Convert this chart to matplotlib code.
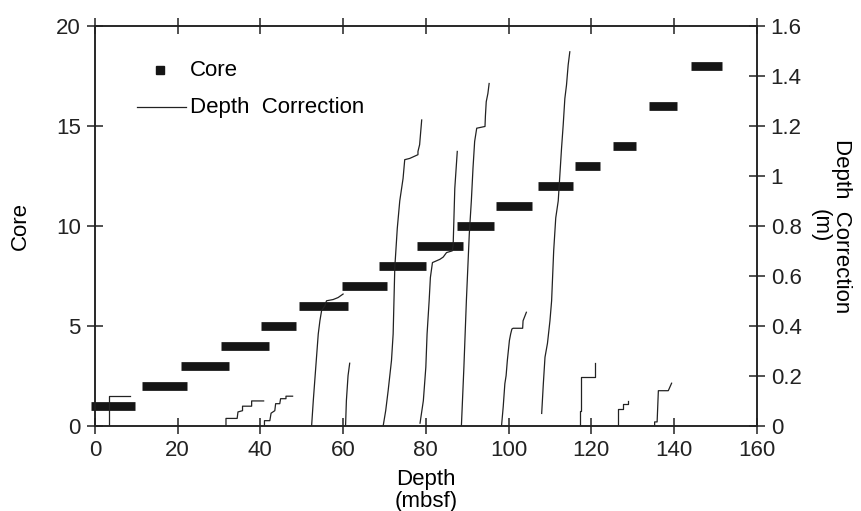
import numpy as np
import matplotlib
matplotlib.use('Agg')
import matplotlib.pyplot as plt
from matplotlib.ticker import FormatStrFormatter

plt.rcParams['font.family'] = ['Liberation Sans', 'DejaVu Sans']
plt.rcParams['font.size'] = 16

# cores: number, top and bottom depth (mbsf)
core_no = [1, 2, 3, 4, 5, 6, 7, 8, 9, 10, 11, 12, 13, 14, 16, 18]
core_top = [-1.0, 11.4, 20.8, 30.6, 40.1, 49.4, 59.8, 68.6, 77.9, 87.6, 97.0, 107.1, 116.1, 125.3, 134.0, 144.0]
core_bot = [9.6, 22.2, 32.4, 42.0, 48.7, 61.2, 70.6, 80.0, 88.9, 96.5, 105.7, 115.6, 122.2, 130.8, 140.6, 151.5]

# depth correction (m) within each core
dc1_depth = [3.4, 3.4, 8.6]
dc1_corr = [0, 0.118, 0.118]
dc4_depth = [31.7, 31.7, 34.4, 34.6, 35.7, 35.7, 37.9, 37.9, 40.8]
dc4_corr = [0, 0.029, 0.029, 0.055, 0.06, 0.078, 0.078, 0.099, 0.099]
dc5_depth = [41.0, 41.0, 42.3, 42.6, 43.5, 43.7, 44.7, 44.9, 46.2, 46.2, 47.8]
dc5_corr = [0, 0.02, 0.02, 0.05, 0.06, 0.088, 0.088, 0.108, 0.108, 0.118, 0.118]
dc6_depth = [52.4, 52.8, 53.4, 54.0, 54.4, 54.8, 55.6, 56.0, 57.6, 58.8, 60.0]
dc6_corr = [0, 0.1, 0.234, 0.367, 0.42, 0.46, 0.48, 0.5, 0.505, 0.513, 0.527]
dc7_depth = [60.6, 60.8, 61.2, 61.6]
dc7_corr = [0, 0.1, 0.2, 0.25]
dc8_depth = [69.7, 70.3, 70.9, 71.7, 72.1, 72.5, 73.1, 73.7, 74.5, 74.9, 76.1, 78.1, 78.1, 78.5, 79.0]
dc8_corr = [0, 0.06, 0.141, 0.261, 0.367, 0.633, 0.79, 0.9, 0.99, 1.065, 1.07, 1.085, 1.098, 1.125, 1.224]
dc9_depth = [78.6, 79.4, 80.0, 80.3, 80.8, 81.1, 81.6, 83.4, 84.2, 85.0, 86.4, 86.6, 87.0, 87.6]
dc9_corr = [0.01, 0.1, 0.234, 0.367, 0.5, 0.593, 0.653, 0.666, 0.675, 0.693, 0.7, 0.72, 0.95, 1.098]
dc10_depth = [88.6, 89.2, 89.8, 90.5, 91.0, 91.4, 91.8, 92.3, 94.3, 94.4, 94.6, 95.0, 95.3]
dc10_corr = [0, 0.234, 0.5, 0.766, 0.9, 1.031, 1.138, 1.191, 1.198, 1.24, 1.297, 1.33, 1.37]
dc11_depth = [98.3, 98.7, 99.1, 99.4, 99.7, 100.2, 100.5, 100.8, 101.1, 103.4, 103.5, 104.3]
dc11_corr = [0, 0.075, 0.168, 0.2, 0.261, 0.341, 0.367, 0.387, 0.39, 0.39, 0.42, 0.454]
dc12_depth = [108.0, 108.4, 108.8, 109.4, 110.0, 110.4, 110.9, 111.4, 112.0, 112.4, 112.8, 113.2, 113.6, 114.0, 114.4, 114.8]
dc12_corr = [0.049, 0.168, 0.274, 0.33, 0.42, 0.5, 0.7, 0.832, 0.9, 1.005, 1.111, 1.204, 1.31, 1.364, 1.444, 1.497]
dc13_depth = [117.2, 117.2, 117.5, 117.5, 120.8, 120.8]
dc13_corr = [0, 0.06, 0.06, 0.195, 0.195, 0.25]
dc14_depth = [126.5, 126.5, 127.7, 127.7, 128.9, 128.9]
dc14_corr = [0, 0.068, 0.068, 0.088, 0.088, 0.1]
dc16_depth = [135.3, 135.3, 135.9, 136.2, 138.6, 139.4]
dc16_corr = [0, 0.015, 0.015, 0.14, 0.14, 0.17]

fig = plt.figure(figsize=(8.62, 5.11), dpi=100)
ax1 = fig.add_axes([0.110, 0.167, 0.768, 0.782])
ax2 = ax1.twinx()

bars = ax1.hlines(core_no, core_top, core_bot, colors='#151515', linewidth=6.3, zorder=3)
bars.set_capstyle('butt')
bars.set_clip_on(False)

segments = [(dc1_depth, dc1_corr), (dc4_depth, dc4_corr), (dc5_depth, dc5_corr),
            (dc6_depth, dc6_corr), (dc7_depth, dc7_corr), (dc8_depth, dc8_corr),
            (dc9_depth, dc9_corr), (dc10_depth, dc10_corr), (dc11_depth, dc11_corr),
            (dc12_depth, dc12_corr), (dc13_depth, dc13_corr), (dc14_depth, dc14_corr),
            (dc16_depth, dc16_corr)]
for d, c in segments:
    ax2.plot(d, c, color='#222222', linewidth=0.9)

ax1.set_xlim(0, 160)
ax1.set_ylim(0, 20)
ax2.set_ylim(0, 1.6)
ax1.set_xticks(np.arange(0, 161, 20))
ax1.set_yticks(np.arange(0, 21, 5))
ax2.set_yticks(np.arange(0, 1.61, 0.2))
ax2.yaxis.set_major_formatter(FormatStrFormatter('%g'))

for a in (ax1, ax2):
    for s in a.spines.values():
        s.set_linewidth(1.1)
        s.set_color('#222222')
ax1.tick_params(axis='both', direction='inout', length=12, width=1.1, top=True, pad=4, colors='#222222')
ax2.tick_params(axis='y', direction='inout', length=12, width=1.1, pad=4, colors='#222222')

ax1.set_xlabel('Depth\n(mbsf)', linespacing=1.05, labelpad=6)
ax1.set_ylabel('Core', labelpad=18)
ax2.set_ylabel('Depth  Correction\n(m)', rotation=270, labelpad=36, linespacing=1.0)

# legend drawn by hand to match the placement
ax1.plot([0.099], [0.889], marker='s', markersize=6, color='#151515', linestyle='none',
         transform=ax1.transAxes)
ax1.text(0.144, 0.889, 'Core', transform=ax1.transAxes, va='center', ha='left')
ax1.plot([0.064, 0.138], [0.797, 0.797], color='#222222', linewidth=0.9, transform=ax1.transAxes)
ax1.text(0.144, 0.797, 'Depth  Correction', transform=ax1.transAxes, va='center', ha='left')

fig.savefig('out.png', dpi=100)
